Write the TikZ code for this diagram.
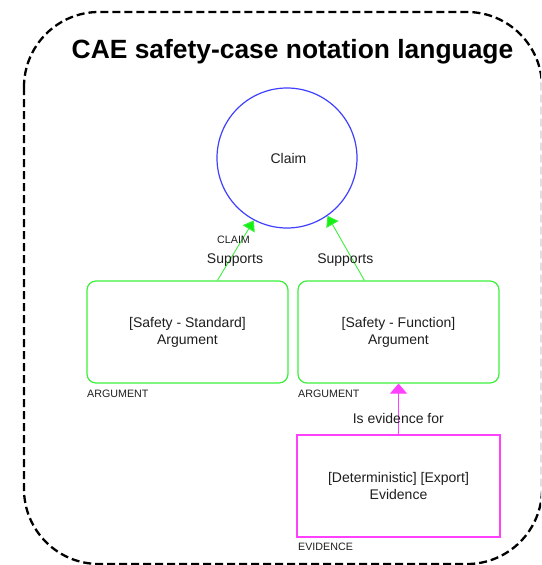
\documentclass[tikz,border=0pt]{standalone}
\usepackage{fontspec}
\setmainfont{Liberation Sans}
\usetikzlibrary{arrows.meta}

\definecolor{claimblue}{RGB}{64,64,255}
\definecolor{argreen}{RGB}{60,240,60}
\definecolor{headgreen}{RGB}{20,240,20}
\definecolor{evmag}{RGB}{255,64,255}
\definecolor{ink}{RGB}{30,30,30}

\begin{document}
\begin{tikzpicture}[x=1pt,y=-1pt,
  txt/.style={font=\fontsize{14}{17}\selectfont, text=ink, inner sep=0pt},
  small/.style={font=\fontsize{10.7}{12}\selectfont, text=ink, inner sep=0pt, anchor=base west},
  lbltxt/.style={txt, anchor=base},
  claimnode/.style={circle, draw=claimblue, line width=1.2pt, minimum size=140pt, inner sep=0pt, txt},
  argbox/.style={draw=argreen, line width=1.2pt, rounded corners=9pt, minimum width=201pt, minimum height=102pt, align=center, txt},
  evbox/.style={draw=evmag, line width=1.2pt, minimum width=203pt, minimum height=102pt, align=center, txt},
  supports/.style={draw=argreen, line width=0.9pt, -{Triangle[length=10pt,width=14pt,fill=headgreen]}},
  evarrow/.style={draw=evmag, line width=1pt, -{Triangle[length=10pt,width=17pt,fill=evmag]}},
  frame/.style={line width=2.3pt, dash pattern=on 8pt off 4pt, rounded corners=75pt},
]
\useasboundingbox (0,0) rectangle (541,565);
\clip (0,0) rectangle (541,565);

% outer dashed frame
\draw[frame] (24,12) rectangle (542,564);

% title
\node[font=\bfseries\fontsize{26.4}{30}\selectfont, anchor=base, inner sep=0pt, text=black] (title) at (292.5,58) {CAE safety-case notation language};

% claim
\node[claimnode] (claim) at (287,158) {\hspace*{3pt}Claim};

% arguments
\node[argbox] (argL) at (187.5,332) {[Safety - Standard]\\Argument};
\node[argbox] (argR) at (398.5,332) {[Safety - Function]\\Argument};
\node[small] (tagL) at (87,397) {ARGUMENT};
\node[small] (tagR) at (298,397) {ARGUMENT};

% evidence
\node[evbox] (evid) at (398.5,486) {[Deterministic] [Export]\\Evidence};
\node[small] (tagE) at (298,550) {EVIDENCE};

% connectors
\draw[supports] ([xshift=131pt]argL.north west) -- (claim.242);
\draw[supports] ([xshift=67pt]argR.north west) -- (claim.305);
\draw[evarrow] (evid.north) -- (argR.south);

% connector labels
\node[small] (claimtag) at (217,243) {CLAIM};
\node[lbltxt] (supL) at (235,263) {Supports};
\node[lbltxt] (supR) at (345.3,263) {Supports};
\node[lbltxt] (evfor) at (398.3,423) {Is evidence for};
\end{tikzpicture}
\end{document}
